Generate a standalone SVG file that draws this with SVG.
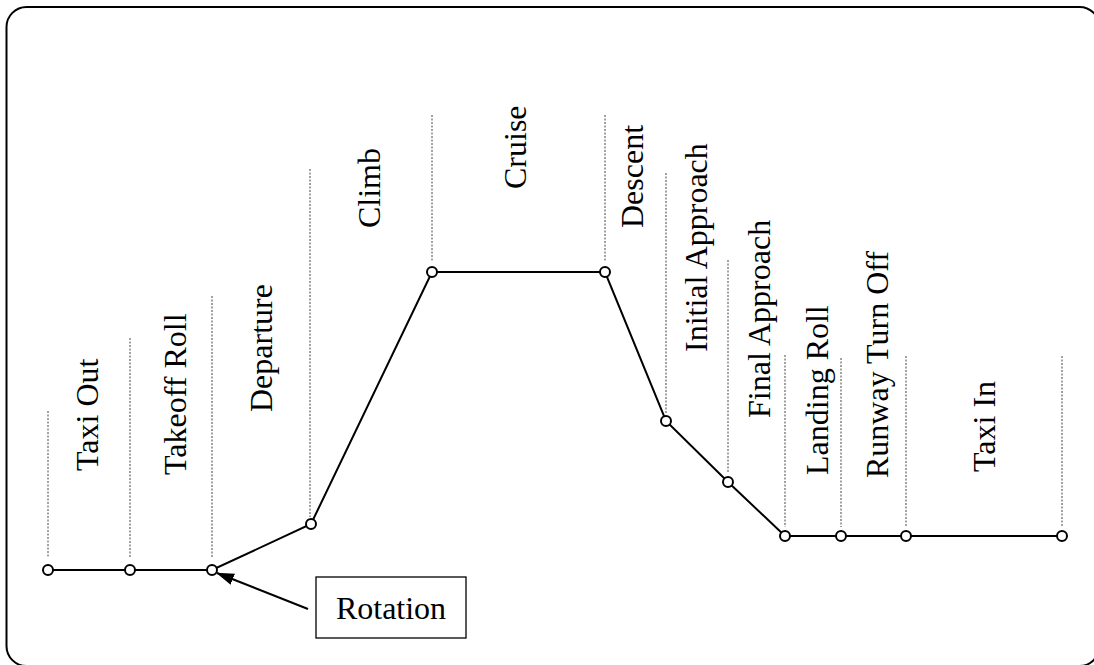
<svg xmlns="http://www.w3.org/2000/svg" width="1094" height="665" viewBox="0 0 1094 665">
<defs>
<style>
.frame{fill:none;stroke:#000;stroke-width:2}
.guide{stroke:#444;stroke-width:1;stroke-dasharray:2 1.5;fill:none}
.path{stroke:#000;stroke-width:2;fill:none}
.pt{fill:#fff;stroke:#000;stroke-width:2}
.lbl{font-family:"Liberation Serif","Times New Roman",serif;font-size:32px;fill:#000}
.box{fill:#fff;stroke:#000;stroke-width:1.3}
</style>
<marker id="ah" markerWidth="18" markerHeight="14" refX="17" refY="7" orient="auto" markerUnits="userSpaceOnUse" viewBox="0 0 18 14">
<path d="M0,1 L18,7 L0,13 z" fill="#000"/>
</marker>
</defs>
<rect x="6.5" y="7" width="1093" height="659" rx="20" ry="20" class="frame"/>
<g id="guides">
<line class="guide" x1="48" y1="411" x2="48" y2="557"/>
<line class="guide" x1="130" y1="338" x2="130" y2="557"/>
<line class="guide" x1="212" y1="296" x2="212" y2="557"/>
<line class="guide" x1="310" y1="169" x2="310" y2="517"/>
<line class="guide" x1="432" y1="115" x2="432" y2="262"/>
<line class="guide" x1="605" y1="115" x2="605" y2="262"/>
<line class="guide" x1="666" y1="173" x2="666" y2="414"/>
<line class="guide" x1="728" y1="260" x2="728" y2="472"/>
<line class="guide" x1="785" y1="355" x2="785" y2="527"/>
<line class="guide" x1="841" y1="358" x2="841" y2="527"/>
<line class="guide" x1="906" y1="356" x2="906" y2="527"/>
<line class="guide" x1="1062" y1="356" x2="1062" y2="527"/>
</g>
<g id="connectors">
<polyline class="path" points="48,570 130,570 212,570 311,524 432,272 605,272 666,421 728,482 785,536 841,536 906,536 1062,536"/>
<line class="path" x1="308" y1="609" x2="217" y2="573" marker-end="url(#ah)"/>
</g>
<g id="points">
<circle class="pt" cx="48" cy="570" r="5"/>
<circle class="pt" cx="130" cy="570" r="5"/>
<circle class="pt" cx="212" cy="570" r="5"/>
<circle class="pt" cx="311" cy="524" r="5"/>
<circle class="pt" cx="432" cy="272" r="5"/>
<circle class="pt" cx="605" cy="272" r="5"/>
<circle class="pt" cx="666" cy="421" r="5"/>
<circle class="pt" cx="728" cy="482" r="5"/>
<circle class="pt" cx="785" cy="536" r="5"/>
<circle class="pt" cx="841" cy="536" r="5"/>
<circle class="pt" cx="906" cy="536" r="5"/>
<circle class="pt" cx="1062" cy="536" r="5"/>
</g>
<g id="labels">
<text class="lbl" transform="translate(98,471) rotate(-90)">Taxi Out</text>
<text class="lbl" transform="translate(186,475) rotate(-90)">Takeoff Roll</text>
<text class="lbl" transform="translate(272,412) rotate(-90)">Departure</text>
<text class="lbl" transform="translate(380,228) rotate(-90)">Climb</text>
<text class="lbl" transform="translate(526,189) rotate(-90)">Cruise</text>
<text class="lbl" transform="translate(643,228) rotate(-90)">Descent</text>
<text class="lbl" transform="translate(707,352) rotate(-90)">Initial Approach</text>
<text class="lbl" transform="translate(770,418) rotate(-90)">Final Approach</text>
<text class="lbl" transform="translate(828,475) rotate(-90)">Landing Roll</text>
<text class="lbl" transform="translate(888,478) rotate(-90)">Runway Turn Off</text>
<text class="lbl" transform="translate(995,472) rotate(-90)">Taxi In</text>
</g>
<g id="rotation">
<rect class="box" x="316" y="577" width="150" height="61"/>
<text class="lbl" x="391" y="619" text-anchor="middle">Rotation</text>
</g>
</svg>
